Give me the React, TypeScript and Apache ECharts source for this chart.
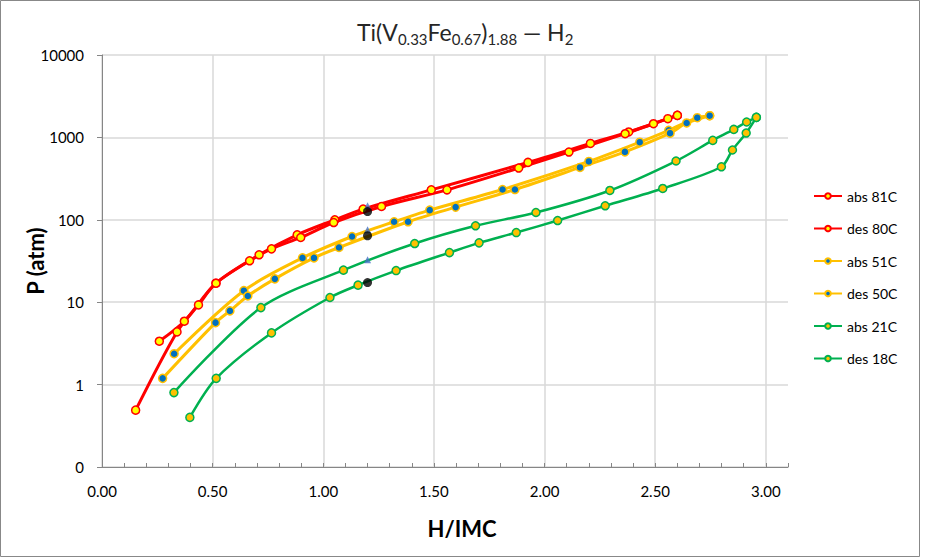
import React, { useEffect, useRef } from "react";
import * as echarts from "echarts";

// ---- Data ----
const abs81X = [0.259, 0.372, 0.515, 0.71, 0.882, 1.052, 1.18, 1.488, 1.925, 2.207, 2.38, 2.557, 2.6];
const abs81P = [3.36, 5.88, 17.0, 37.6, 65.8, 100, 135, 231, 497, 845, 1164, 1687, 1850];

const des80X = [2.6, 2.492, 2.364, 2.11, 1.883, 1.559, 1.263, 1.047, 0.898, 0.766, 0.667, 0.515, 0.436, 0.339, 0.152];
const des80P = [1850, 1466, 1109, 664, 425, 231, 145, 92.7, 61, 44.4, 31.8, 17.0, 9.27, 4.36, 0.49];

const abs51X = [0.326, 0.641, 0.906, 1.13, 1.32, 1.481, 1.81, 2.2, 2.43, 2.561, 2.69, 2.746];
const abs51P = [2.37, 13.8, 34.5, 62.7, 94.6, 131, 233, 511, 875, 1220, 1735, 1835];

const des50X = [2.746, 2.642, 2.567, 2.363, 2.16, 1.866, 1.598, 1.383, 1.071, 0.958, 0.781, 0.659, 0.578, 0.513, 0.274];
const des50P = [1835, 1496, 1125, 667, 432, 233, 142.6, 94.6, 46.1, 34.5, 19.2, 11.9, 7.84, 5.65, 1.19];

const abs21X = [0.325, 0.718, 1.091, 1.413, 1.688, 1.961, 2.295, 2.594, 2.76, 2.855, 2.913, 2.957];
const abs21P = [0.8, 8.6, 24.5, 51.5, 84.6, 122.6, 227, 517, 920, 1250, 1538, 1750];

const des18X = [2.957, 2.911, 2.849, 2.799, 2.534, 2.274, 2.059, 1.872, 1.704, 1.57, 1.329, 1.157, 1.03, 0.766, 0.516, 0.397];
const des18P = [1750, 1130, 703, 440, 240, 148, 98, 70, 52.5, 40, 24.2, 16.1, 11.4, 4.24, 1.19, 0.4];

const blackX = [1.2, 1.2, 1.2];
const blackP = [126, 64, 17.3];
const triX = [1.2, 1.2, 1.2];
const triP = [148, 75.6, 32.7];

const seriesNames = ["abs 81C", "des 80C", "abs 51C", "des 50C", "abs 21C", "des 18C"];
const xTickLabels = ["0.00", "0.50", "1.00", "1.50", "2.00", "2.50", "3.00"];

const FONT = "Lato, 'Noto Sans', sans-serif";

function pairs(xs: number[], ps: number[]) {
  return xs.map((x, i) => [x, ps[i]]);
}

function lineSeries(name: string, xs: number[], ps: number[], line: string, fill: string, border: string, lw: number) {
  return {
    type: "line",
    name,
    data: pairs(xs, ps),
    smooth: 0.3,
    symbol: "circle",
    symbolSize: 8,
    lineStyle: { color: line, width: lw },
    itemStyle: { color: fill, borderColor: border, borderWidth: 1.5 },
    z: 3,
  };
}

export default function App() {
  const ref = useRef<HTMLDivElement>(null);
  useEffect(() => {
    if (!ref.current) return;
    const chart = echarts.init(ref.current, undefined, { renderer: "svg" });
    const option = {
      animation: false,
      backgroundColor: "#ffffff",
      title: {
        text: "{a|Ti(V}{s|0.33}{a|Fe}{s|0.67}{a|)}{s|1.88}{a| — H}{s|2}",
        left: 357,
        top: 17,
        padding: 0,
        textStyle: {
          fontWeight: "normal",
          rich: {
            a: { fontFamily: FONT, fontSize: 23, fontWeight: "normal", color: "#262626", lineHeight: 29, verticalAlign: "middle" },
            s: { fontFamily: FONT, fontSize: 15, fontWeight: "normal", color: "#262626", lineHeight: 15, verticalAlign: "bottom" },
          },
        },
      },
      grid: { left: 102, right: 157, top: 55, bottom: 91, containLabel: false },
      legend: {
        orient: "vertical",
        left: 813,
        top: 189,
        padding: 0,
        itemWidth: 28,
        itemHeight: 7,
        itemGap: 18.5,
        data: seriesNames,
        textStyle: { fontFamily: FONT, fontSize: 14, color: "#000", lineHeight: 14 },
      },
      xAxis: {
        type: "value",
        min: 0,
        max: 3.1,
        interval: 0.5,
        axisLine: { show: true, lineStyle: { color: "#868686", width: 1 } },
        axisTick: { show: true, inside: true, length: 4, lineStyle: { color: "#868686" } },
        minorTick: { show: true, splitNumber: 5, length: 4, lineStyle: { color: "#868686" } },
        axisLabel: {
          formatter: (v: number) => {
            const idx = Math.round(v / 0.5);
            return Math.abs(v - idx * 0.5) < 1e-6 && idx < xTickLabels.length ? xTickLabels[idx] : "";
          },
          showMaxLabel: false,
          margin: 16,
          fontSize: 15,
          fontFamily: FONT,
          color: "#000",
        },
        splitLine: { show: true, showMaxLine: false, lineStyle: { color: "#d9d9d9", width: 1.5 } },
      },
      yAxis: {
        type: "log",
        logBase: 10,
        min: 0.1,
        max: 10000,
        axisLine: { show: true, lineStyle: { color: "#868686", width: 1 } },
        axisTick: { show: true, length: 5, lineStyle: { color: "#868686" } },
        axisLabel: {
          formatter: (v: number) => (v < 1 ? "0" : String(Math.round(v))),
          margin: 18,
          fontSize: 15,
          fontFamily: FONT,
          color: "#000",
        },
        splitLine: { show: true, lineStyle: { color: "#d9d9d9", width: 1.5 } },
      },
      graphic: [
        {
          type: "rect",
          silent: true,
          z: -1,
          shape: { x: 0.5, y: 0.5, width: 919, height: 556 },
          style: { fill: "none", stroke: "#888888", lineWidth: 1 },
        },
        {
          type: "text",
          x: 462,
          y: 528,
          style: { text: "H/IMC", font: `bold 22px ${FONT}`, fill: "#000", align: "center", verticalAlign: "middle" },
        },
        {
          type: "text",
          x: 35,
          y: 261,
          rotation: Math.PI / 2,
          style: { text: "P (atm)", font: `bold 22px ${FONT}`, fill: "#000", align: "center", verticalAlign: "middle" },
        },
      ],
      series: [
        lineSeries(seriesNames[0], abs81X, abs81P, "#FF0000", "#FFFF00", "#FF0000", 3),
        lineSeries(seriesNames[1], des80X, des80P, "#FF0000", "#FFFF00", "#FF0000", 3),
        lineSeries(seriesNames[2], abs51X, abs51P, "#FFC000", "#0070C0", "#FFC000", 3),
        lineSeries(seriesNames[3], des50X, des50P, "#FFC000", "#0070C0", "#FFC000", 3),
        lineSeries(seriesNames[4], abs21X, abs21P, "#00B050", "#FFC000", "#00B050", 2.5),
        lineSeries(seriesNames[5], des18X, des18P, "#00B050", "#FFC000", "#00B050", 2.5),
        {
          type: "scatter",
          name: "tri",
          data: pairs(triX, triP),
          symbol: "triangle",
          symbolSize: 7,
          itemStyle: { color: "#4472C4" },
          z: 4,
        },
        {
          type: "scatter",
          name: "black",
          data: pairs(blackX, blackP),
          symbol: "circle",
          symbolSize: 9,
          itemStyle: { color: "#000000" },
          z: 5,
        },
      ],
    };
    chart.setOption(option as any);
    return () => chart.dispose();
  }, []);
  return (
    <div
      ref={ref}
      style={{ position: "absolute", left: 0, top: 0, width: 945, height: 558, background: "#fff" }}
    />
  );
}
